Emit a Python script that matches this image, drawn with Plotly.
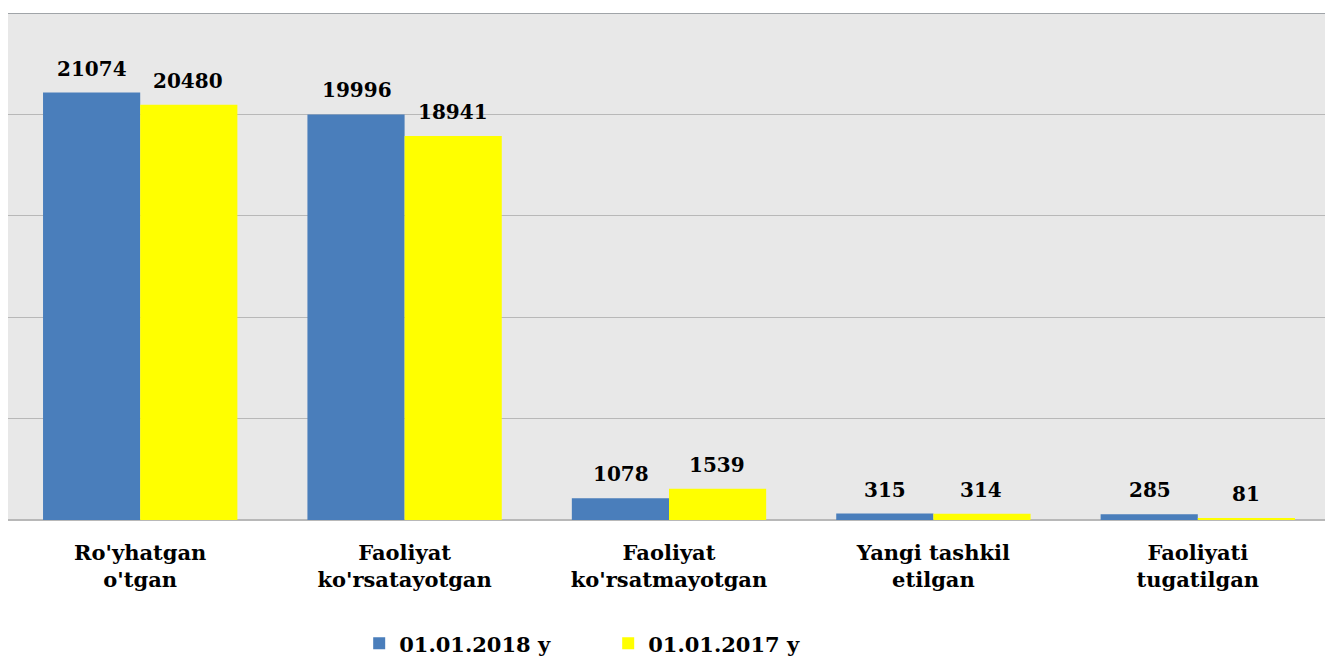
import plotly.graph_objects as go

categories = ["Ro'yhatgan<br>o'tgan", "Faoliyat<br>ko'rsatayotgan", "Faoliyat<br>ko'rsatmayotgan",
              "Yangi tashkil<br>etilgan", "Faoliyati<br>tugatilgan"]
series_2018 = [21074, 19996, 1078, 315, 285]
series_2017 = [20480, 18941, 1539, 314, 81]
name_2018 = "01.01.2018 y"
name_2017 = "01.01.2017 y"

BLUE = "#4a7ebb"
YELLOW = "#ffff00"
FONT = "DejaVu Serif"

fig = go.Figure()
fig.add_trace(go.Bar(x=categories, y=series_2018, name=name_2018, marker_color=BLUE,
                     marker_line_width=0))
fig.add_trace(go.Bar(x=categories, y=series_2017, name=name_2017, marker_color=YELLOW,
                     marker_line_width=0))

for vals, shift in ((series_2018, -48), (series_2017, 48)):
    for c, v in zip(categories, vals):
        fig.add_annotation(x=c, y=v, xref="x", yref="y", text=f"<b>{v}</b>", showarrow=False,
                           xshift=shift, yshift=10, yanchor="bottom",
                           font=dict(family=FONT, size=20, color="black"))

fig.update_layout(
    width=1325, height=651,
    margin=dict(l=0, r=3, t=5, b=139, autoexpand=False),
    paper_bgcolor="white", plot_bgcolor="#e8e8e8",
    barmode="group", bargap=0.265, bargroupgap=0,
    font=dict(family=FONT, color="black"),
    showlegend=True,
    legend=dict(orientation="h", xanchor="center", x=0.454, y=-0.244,
                yanchor="middle", font=dict(family=FONT, size=21, color="black", weight="bold"),
                entrywidth=204, entrywidthmode="pixels", traceorder="normal"),
    xaxis=dict(tickfont=dict(family=FONT, size=21, color="black", weight="bold"),
               showline=False, ticks="", showgrid=False, automargin=False,
               ticklabelstandoff=18),
    yaxis=dict(range=[0, 25000], dtick=5000, showticklabels=False, gridcolor="#b8b8b8",
               gridwidth=1, zeroline=True, zerolinecolor="#b8b8b8", showline=False, ticks="",
               automargin=False),
)
fig.add_shape(type="line", xref="paper", yref="y", x0=0, x1=1, y0=25000, y1=25000,
              line=dict(color="#a0a4a8", width=2))

fig.write_html("out.html")
